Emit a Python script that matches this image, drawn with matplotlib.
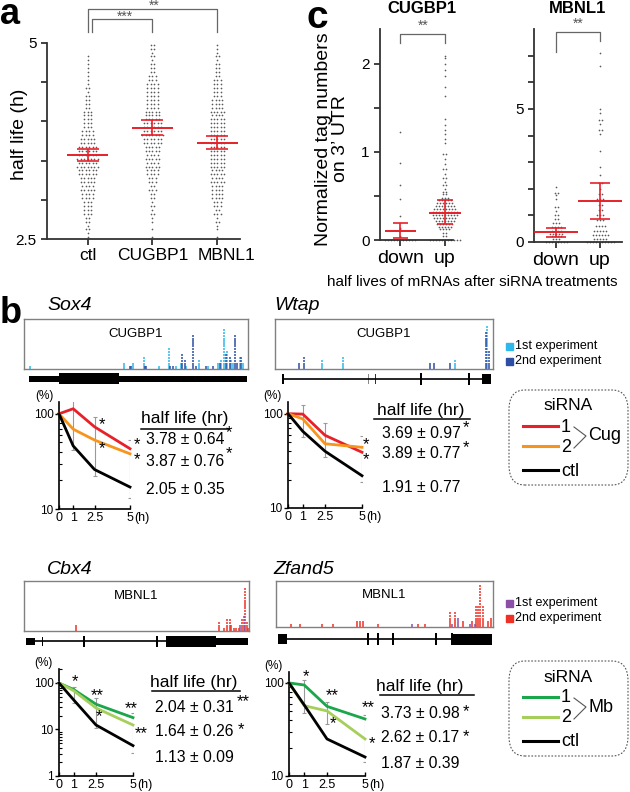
import numpy as np
import matplotlib
matplotlib.use('Agg')
import matplotlib.pyplot as plt
from matplotlib.transforms import Affine2D
from matplotlib.patches import FancyBboxPatch, Rectangle
from matplotlib.lines import Line2D

plt.rcParams['font.family'] = ['Liberation Sans', 'DejaVu Sans']

# ---------------- data ----------------
# panel a: half lives (h), number of dots per 0.1 h bin, 2.5 -> 5
a_groups = ['ctl', 'CUGBP1', 'MBNL1']
a_bin_lo = 2.5
a_bin_w = 0.1
a_ctl_counts = [2, 3, 4, 6, 6, 8, 9, 10, 12, 13, 13, 12, 10, 8, 6, 6, 5, 4, 3, 3, 2, 2, 2, 1, 0]
a_cug_counts = [1, 1, 2, 3, 3, 4, 5, 6, 8, 9, 9, 10, 12, 13, 12, 10, 9, 8, 8, 8, 6, 4, 3, 3, 4]
a_mb_counts = [1, 2, 3, 5, 6, 8, 8, 9, 9, 10, 10, 10, 10, 10, 10, 9, 9, 8, 6, 6, 5, 4, 3, 3, 2]
a_mean = [3.57, 3.92, 3.73]
a_sem = [0.08, 0.095, 0.083]

# panel c: normalized tag numbers on 3' UTR (levels and number of dots)
c_cug_down_lv = [0, 0.03, 0.05, 0.1, 0.12, 0.14, 0.27, 0.46, 0.62, 0.87, 1.22]
c_cug_down_n = [11, 1, 1, 1, 1, 1, 1, 1, 1, 1, 1]
c_cug_up_lv = [0, 0.05, 0.08, 0.12, 0.15, 0.18, 0.22, 0.25, 0.28, 0.32, 0.35, 0.38, 0.42,
               0.45, 0.48, 0.52, 0.55, 0.58, 0.62, 0.66, 0.7, 0.75, 0.8, 0.86, 0.92, 0.98,
               1.1, 1.14, 1.2, 1.25, 1.3, 1.37, 1.63, 1.74, 1.86, 1.93, 2.0, 2.07, 2.09]
c_cug_up_n = [11, 2, 2, 4, 5, 6, 7, 8, 9, 9, 8, 7, 6,
              5, 3, 2, 2, 1, 2, 1, 2, 1, 2, 1, 1, 2,
              1, 1, 1, 1, 1, 1, 1, 1, 1, 1, 1, 1, 1]
c_cug_mean = [0.105, 0.31]
c_cug_lo = [0.02, 0.18]
c_cug_hi = [0.19, 0.45]

c_mb_down_lv = [0, 0.1, 0.2, 0.3, 0.4, 0.55, 0.7, 0.85, 1.0, 1.15, 1.3, 1.6, 1.75, 1.85, 2.05]
c_mb_down_n = [8, 3, 4, 5, 4, 4, 3, 2, 2, 1, 2, 1, 1, 2, 1]
c_mb_up_lv = [0, 0.12, 0.25, 0.4, 0.6, 0.8, 1.0, 1.2, 1.4, 1.6, 1.8, 2.0, 2.2, 2.5, 2.8,
              3.4, 4.05, 4.2, 4.45, 4.6, 4.85, 5.0, 6.6, 7.1]
c_mb_up_n = [10, 5, 6, 5, 4, 3, 3, 2, 2, 3, 2, 1, 2, 1, 1,
             1, 1, 2, 1, 2, 1, 1, 1, 1]
c_mb_mean = [0.38, 1.54]
c_mb_lo = [0.19, 0.86]
c_mb_hi = [0.53, 2.2]

# panel b: decay curves (% remaining) at 0, 1, 2.5, 5 h
b_t = [0, 1, 2.5, 5]
b_err_t = [1, 2.5, 5]

sox4_si1 = [100, 113, 73, 43]
sox4_si2 = [100, 69, 53, 38]
sox4_ctl = [100, 46, 26, 17]
sox4_err_lo = [42, 22, 13]
sox4_err_hi = [145, 93, 53]

wtap_si1 = [100, 99, 59, 39]
wtap_si2 = [100, 88, 48, 44]
wtap_ctl = [100, 65, 40, 22]
wtap_err_lo = [57, 35, 19]
wtap_err_hi = [124, 80, 58]

cbx4_si1 = [100, 72, 35, 18]
cbx4_si2 = [100, 68, 29, 12.5]
cbx4_ctl = [100, 43, 12.5, 4.5]
cbx4_err_lo = [37, 11, 3.2]
cbx4_err_hi = [82, 48, 23]

zfand5_si1 = [100, 95, 56, 41]
zfand5_si2 = [100, 57, 50, 25]
zfand5_ctl = [100, 58, 25, 16]
zfand5_err_lo = [48, 36, 14]
zfand5_err_hi = [108, 63, 45]

half_sox4 = ['3.78 \u00b1 0.64', '3.87 \u00b1 0.76', '2.05 \u00b1 0.35']
half_wtap = ['3.69 \u00b1 0.97', '3.89 \u00b1 0.77', '1.91 \u00b1 0.77']
half_cbx4 = ['2.04 \u00b1 0.31', '1.64 \u00b1 0.26', '1.13 \u00b1 0.09']
half_zfand5 = ['3.73 \u00b1 0.98', '2.62 \u00b1 0.17', '1.87 \u00b1 0.39']

# CLIP tags: position along the gene (fraction of box) and stacked read count
sox4_tag1_x = [.025, .445, .487, .534, .603, .647, .68, .702, .725, .781, .82, .866, .88,
               .891, .908, .926, .933, .966, .978]
sox4_tag1_n = [1, 2, 2, 4, 1, 7, 1, 2, 1, 3, 1, 2, 3, 13, 6, 3, 2, 4, 2]
sox4_tag2_x = [.472, .479, .539, .546, .653, .665, .707, .717, .754, .769, .811, .844,
               .873, .903, .918, .94, .95, .97]
sox4_tag2_n = [1, 1, 1, 1, 1, 1, 5, 3, 11, 1, 1, 1, 2, 5, 4, 11, 2, 4]

wtap_tag1_x = [.216, .312, .826, .972]
wtap_tag1_n = [3, 4, 3, 14]
wtap_tag2_x = [.11, .133, .711, .729, .803, .968, .982]
wtap_tag2_n = [2, 4, 2, 2, 2, 12, 6]

cbx4_tag1_x = [.961, .978]
cbx4_tag1_n = [2, 5]
cbx4_tag2_x = [.233, .867, .887, .904, .914, .921, .932, .944, .956, .97, .981, .991, .997]
cbx4_tag2_n = [2, 3, 1, 4, 4, 2, 1, 1, 1, 4, 14, 3, 1]

zfand5_tag1_x = [.627, .811, .839, .894, .917]
zfand5_tag1_n = [1, 1, 3, 1, 1]
zfand5_tag2_x = [.069, .11, .212, .263, .373, .387, .401, .47, .654, .687, .802, .825,
                 .862, .903, .922, .931, .94, .954, .977, .991]
zfand5_tag2_n = [1, 1, 1, 1, 2, 2, 2, 1, 1, 1, 5, 5, 2, 2, 7, 7, 14, 7, 2, 3]

# gene models: exon start, end (fraction of box), half height (px), colour
sox4_exons = [(.022, .156, 3, 'k'), (.156, .424, 5.5, 'k'), (.424, .996, 3, 'k')]
wtap_exons = [(.033, .039, 5, 'k'), (.273, .277, 5, '#888888'), (.365, .369, 5, '#555555'),
              (.425, .429, 5, '#888888'), (.461, .465, 5, '#333333'), (.667, .673, 6, 'k'),
              (.887, .893, 6, 'k'), (.95, .99, 5, 'k')]
cbx4_exons = [(.009, .049, 3.5, 'k'), (.078, .084, 4.5, 'k'), (.262, .272, 5.5, 'k'),
              (.587, .595, 5.5, 'k'), (.631, .853, 5.5, 'k'), (.853, .996, 3.5, 'k')]
zfand5_exons = [(.009, .051, 5, 'k'), (.418, .43, 6, 'k'), (.465, .475, 6, 'k'),
                (.535, .543, 6, 'k'), (.732, .742, 6, 'k'), (.805, .816, 6, 'k'),
                (.816, .995, 5.5, 'k')]

# colours
RED = '#e62129'
ORANGE = '#f7941d'
DKGREEN = '#1aa64a'
LTGREEN = '#a5cf5a'
CYAN = '#2fb8ea'
NAVY = '#2d4ea3'
PURPLE = '#8c4fa8'
TAGRED = '#ee3124'

# ---------------- figure ----------------
W, H = 630, 792
fig = plt.figure(figsize=(6.3, 7.92), dpi=100)
PX = Affine2D().scale(1.0 / W, -1.0 / H).translate(0, 1) + fig.transFigure


def add_ax(x0, y0, x1, y1):
    return fig.add_axes([x0 / W, 1 - y1 / H, (x1 - x0) / W, (y1 - y0) / H])


def ftext(x, y, s, **kw):
    kw.setdefault('ha', 'center')
    kw.setdefault('va', 'center')
    fig.text(x, y, s, transform=PX, **kw)


def fline(xs, ys, **kw):
    fig.add_artist(Line2D(xs, ys, transform=PX, **kw))


def swarm(ax, xc, levels, counts, dx, color='#5a5a5a', s=1.5):
    for lv, n in zip(levels, counts):
        if n == 0:
            continue
        xs = xc + (np.arange(n) - (n - 1) / 2.0) * dx
        ax.scatter(xs, np.full(n, lv), s=s, color=color, lw=0, zorder=2, clip_on=False)


def mean_sem(ax, xc, m, lo, hi, half_w, cap_w):
    ax.hlines(m, xc - half_w, xc + half_w, color=RED, lw=1.4, zorder=4, clip_on=False)
    ax.vlines(xc, lo, hi, color=RED, lw=1.2, zorder=4, clip_on=False)
    ax.hlines([lo, hi], xc - cap_w, xc + cap_w, color=RED, lw=1.2, zorder=4, clip_on=False)


def style_axis(ax, lw=1.3, color='#333333'):
    for s in ['top', 'right']:
        ax.spines[s].set_visible(False)
    for s in ['left', 'bottom']:
        ax.spines[s].set_linewidth(lw)
        ax.spines[s].set_color(color)
    ax.tick_params(color=color, width=lw)


# ---- panel a ----
ax_a = add_ax(47, 42.7, 240, 239.3)
for i, counts in enumerate([a_ctl_counts, a_cug_counts, a_mb_counts]):
    levels, ns = [], []
    for j, n in enumerate(counts):
        levels += [a_bin_lo + a_bin_w * (j + 0.25), a_bin_lo + a_bin_w * (j + 0.75)]
        ns += [(n + 1) // 2, n // 2]
    swarm(ax_a, i, levels, ns, 3.4 / 65.0)
    mean_sem(ax_a, i, a_mean[i], a_mean[i] - a_sem[i], a_mean[i] + a_sem[i], 0.32, 0.17)
ax_a.set_xlim(-0.625, 2.35)
ax_a.set_ylim(2.5, 5)
style_axis(ax_a)
ax_a.set_yticks([2.5, 3, 3.5, 4, 4.5, 5])
ax_a.set_yticklabels(['2.5', '', '', '', '', '5'], fontsize=11)
ax_a.set_xticks([0, 1, 2])
ax_a.set_xticklabels([])
ax_a.tick_params(length=4)
# category names (MBNL1 sits a little right of its column in the original)
for i, (name, off) in enumerate(zip(a_groups, [0, 0, 0.14])):
    ax_a.text(i + off, -0.045, name, transform=ax_a.get_xaxis_transform(),
              ha='center', va='top', fontsize=12.5)
ftext(20, 134, 'half life (h)', fontsize=14, rotation=90)
# significance brackets
br = dict(color='#666666', lw=0.9, clip_on=False)
ax_a.plot([0, 0, 2, 2], [5.14, 5.43, 5.43, 5.14], **br)
ax_a.plot([0.07, 0.07, 1, 1], [5.14, 5.30, 5.30, 5.14], **br)
ax_a.text(1.03, 5.47, '**', ha='center', va='center', fontsize=10, color='#555555')
ax_a.text(0.58, 5.33, '***', ha='center', va='center', fontsize=10, color='#555555')
ftext(0, 24, 'a', fontsize=26, fontweight='bold', ha='left', va='baseline')

# ---- panel c ----
ax_c1 = add_ax(380, 29.3, 453, 240)
swarm(ax_c1, 0, c_cug_down_lv, c_cug_down_n, 3.0 / 44.5)
swarm(ax_c1, 1, c_cug_up_lv, c_cug_up_n, 3.0 / 44.5)
for i in range(2):
    mean_sem(ax_c1, i, c_cug_mean[i], c_cug_lo[i], c_cug_hi[i], 0.35, 0.17)
ax_c1.set_xlim(-0.46, 1.18)
ax_c1.set_ylim(0, 2.39)
style_axis(ax_c1)
ax_c1.set_yticks([0, 0.5, 1, 1.5, 2])
ax_c1.set_yticklabels(['0', '', '1', '', '2'], fontsize=11)
ax_c1.set_xticks([0, 1])
ax_c1.set_xticklabels(['down', 'up'], fontsize=14)
ax_c1.tick_params(length=4)
ax_c1.plot([0, 0, 1, 1], [2.23, 2.34, 2.34, 2.23], **br)
ax_c1.text(0.5, 2.43, '**', ha='center', va='center', fontsize=10, color='#555555')
ax_c1.set_title('CUGBP1', fontsize=12, fontweight='bold', pad=12, x=0.575)

ax_c2 = add_ax(534, 29.3, 621.7, 241.7)
swarm(ax_c2, 0, c_mb_down_lv, c_mb_down_n, 3.0 / 44)
swarm(ax_c2, 1, c_mb_up_lv, c_mb_up_n, 3.0 / 44)
for i in range(2):
    mean_sem(ax_c2, i, c_mb_mean[i], c_mb_lo[i], c_mb_hi[i], 0.5, 0.23)
ax_c2.set_xlim(-0.5, 1.49)
ax_c2.set_ylim(0, 8.0)
style_axis(ax_c2)
ax_c2.set_yticks([0, 1, 2, 3, 4, 5, 6, 7])
ax_c2.set_yticklabels(['0', '', '', '', '', '5', '', ''], fontsize=11)
ax_c2.set_xticks([0, 1])
ax_c2.set_xticklabels(['down', 'up'], fontsize=14)
ax_c2.tick_params(length=4)
ax_c2.plot([0, 0, 1, 1], [7.13, 7.89, 7.89, 7.55], **br)
ax_c2.text(0.5, 8.2, '**', ha='center', va='center', fontsize=10, color='#555555')
ax_c2.set_title('MBNL1', fontsize=12, fontweight='bold', pad=12)

ftext(332, 139, 'Normalized tag numbers\non 3\u2019 UTR', fontsize=14, rotation=90,
      linespacing=1.05)
ftext(472, 282, 'half lives of mRNAs after siRNA treatments', fontsize=11)
ftext(307, 28, 'c', fontsize=28, fontweight='bold', ha='left', va='baseline')


# ---- panel b ----
def track(x0, y0, x1, y1, label, tags, ymax):
    ax = add_ax(x0, y0, x1, y1)
    ax.set_xlim(0, 1)
    ax.set_ylim(0, ymax)
    ax.set_xticks([])
    ax.set_yticks([])
    for s in ax.spines.values():
        s.set_color('#808080')
        s.set_linewidth(1.0)
    for xs, ns, col in tags:
        for xv, n in zip(xs, ns):
            k = np.arange(n)
            ax.vlines(np.full(n, xv), k + 0.1, k + 0.85, color=col, lw=1.1)
    ax.text(0.5, 0.7, label, transform=ax.transAxes, ha='center', va='center', fontsize=9.5)
    return ax


def gene(x0, x1, yc, exons, line_from, line_to):
    ax = add_ax(x0, yc - 9, x1, yc + 9)
    ax.set_xlim(0, 1)
    ax.set_ylim(-9, 9)
    ax.axis('off')
    ax.hlines(0, line_from, line_to, color='black', lw=1.2)
    for s, e, hh, col in exons:
        ax.add_patch(Rectangle((s, -hh), e - s, 2 * hh, color=col, lw=0))
    return ax


def decay(x0, y0, x1, y1, ylim, yticks, ylabels, curves, colors, err_lo, err_hi):
    ax = add_ax(x0, y0, x1, y1)
    ax.set_yscale('log')
    for yv, col in zip(curves, colors):
        ax.plot(b_t, yv, color=col, lw=2.0, zorder=3, clip_on=False)
    ax.vlines(b_err_t, err_lo, err_hi, color='#9a9a9a', lw=0.8, zorder=2)
    ax.scatter(b_err_t + b_err_t, list(err_lo) + list(err_hi), marker='_', s=10,
               color='#9a9a9a', lw=0.8, zorder=2)
    ax.set_xlim(0, 5)
    ax.set_ylim(*ylim)
    for s in ['top', 'right']:
        ax.spines[s].set_visible(False)
    for s in ['left', 'bottom']:
        ax.spines[s].set_linewidth(1.2)
        ax.spines[s].set_color('black')
    ax.set_yticks(yticks)
    ax.set_yticklabels(ylabels, fontsize=8.5)
    ax.set_xticks(b_t)
    ax.set_xticklabels(['0', '1', '2.5', '5'], fontsize=9)
    ax.tick_params(axis='y', which='major', direction='out', length=3, width=1, pad=1)
    ax.tick_params(axis='y', which='minor', direction='in', length=2.5, width=0.8)
    ax.tick_params(axis='x', direction='in', length=3, width=1, pad=2)
    ax.yaxis.set_minor_formatter(matplotlib.ticker.NullFormatter())
    ax.text(-0.08, 1.0, '(%)', transform=ax.transAxes, ha='right', va='bottom', fontsize=8.5)
    ax.text(1.06, -0.03, '(h)', transform=ax.transAxes, ha='left', va='top', fontsize=9)
    return ax


def half_block(x, ys, header_y, rows, stars, under):
    ftext(x, header_y, 'half life (hr)', fontsize=12.5, ha='left')
    fline(under[0], under[1], color='black', lw=1.1)
    for yv, s in zip(ys, rows):
        ftext(x + 5, yv, s, fontsize=11.3, ha='left')
    for sx, sy, s in stars:
        ftext(sx, sy, s, fontsize=12)


def siRNA_legend(y0, colors, tag):
    box = FancyBboxPatch((509 / W, 1 - (y0 + 95) / H), 119 / W, 95 / H,
                         boxstyle='round,pad=0,rounding_size=0.025', transform=fig.transFigure,
                         fill=False, ec='#555555', lw=0.8, ls=(0, (1.5, 1.5)))
    fig.add_artist(box)
    ftext(568, y0 + 16, 'siRNA', fontsize=12.5)
    ys = [y0 + 36, y0 + 56, y0 + 80]
    for yv, col, lab in zip(ys, colors, ['1', '2', 'ctl']):
        fline([523, 558], [yv, yv], color=col, lw=2.2)
        ftext(561, yv + 1, lab, fontsize=13, ha='left')
    fline([574, 586, 574], [ys[0] + 1, (ys[0] + ys[1]) / 2, ys[1] + 2], color='#555555', lw=0.8)
    ftext(588, (ys[0] + ys[1]) / 2, tag, fontsize=13, ha='left')


def exp_legend(y0, c1, c2):
    for yv, col, lab in [(y0, c1, '1st experiment'), (y0 + 15, c2, '2nd experiment')]:
        fig.add_artist(Rectangle((506 / W, 1 - (yv + 3.5) / H), 7 / W, 7 / H, color=col,
                                 transform=fig.transFigure))
        ftext(515, yv, lab, fontsize=9, ha='left')


# Sox4
ftext(47, 306, 'Sox4', fontsize=14, style='italic', ha='left')
track(24, 319, 248, 369, 'CUGBP1', [(sox4_tag1_x, sox4_tag1_n, CYAN),
                                    (sox4_tag2_x, sox4_tag2_n, NAVY)], 16)
gene(24, 248, 379, sox4_exons, 0.022, 0.996)
decay(59, 401.7, 130, 509, (10, 134), [10, 100], ['10', '100'],
      [sox4_si1, sox4_si2, sox4_ctl], [RED, ORANGE, 'black'], sox4_err_lo, sox4_err_hi)
half_block(141, [440, 461, 489], 419, half_sox4,
           [(102, 425, '*'), (102, 449, '*'), (137, 445, '*'), (137, 460, '*'),
            (229, 433, '*'), (229, 454, '*')],
           ([141, 229], [429, 429]))

# Wtap
ftext(274, 306, 'Wtap', fontsize=14, style='italic', ha='left')
track(275, 319, 493, 369, 'CUGBP1', [(wtap_tag1_x, wtap_tag1_n, CYAN),
                                     (wtap_tag2_x, wtap_tag2_n, NAVY)], 16)
gene(275, 493, 379, wtap_exons, 0.036, 0.986)
decay(288, 401.7, 362, 508, (10, 134), [10, 100], ['10', '100'],
      [wtap_si1, wtap_si2, wtap_ctl], [RED, ORANGE, 'black'], wtap_err_lo, wtap_err_hi)
half_block(377, [434, 454, 487], 410, half_wtap,
           [(366, 445, '*'), (366, 460, '*'), (466, 428, '*'), (466, 448, '*')],
           ([374, 470], [419, 419]))
exp_legend(346, CYAN, NAVY)
siRNA_legend(390, [RED, ORANGE, 'black'], 'Cug')

# Cbx4
ftext(47, 570, 'Cbx4', fontsize=14, style='italic', ha='left')
track(24, 581, 249, 631, 'MBNL1', [(cbx4_tag2_x, cbx4_tag2_n, TAGRED),
                                   (cbx4_tag1_x, cbx4_tag1_n, PURPLE)], 16)
gene(24, 249, 641, cbx4_exons, 0.009, 0.996)
decay(59, 669, 133, 776, (1, 200), [1, 10, 100], ['1', '10', '100'],
      [cbx4_si1, cbx4_si2, cbx4_ctl], [DKGREEN, LTGREEN, 'black'], cbx4_err_lo, cbx4_err_hi)
half_block(150, [707, 731, 757], 682, half_cbx4,
           [(75, 682, '*'), (97, 696, '**'), (99, 717, '*'), (131, 709, '**'),
            (141, 734, '**'), (243, 702, '**'), (241, 730, '*')],
           ([152, 240], [691, 691]))

# Zfand5
ftext(273, 570, 'Zfand5', fontsize=14, style='italic', ha='left')
track(276, 581, 493, 627, 'MBNL1', [(zfand5_tag2_x, zfand5_tag2_n, TAGRED),
                                    (zfand5_tag1_x, zfand5_tag1_n, PURPLE)], 15)
gene(276, 493, 639, zfand5_exons, 0.009, 0.995)
decay(289, 671.7, 365, 776, (10, 132), [10, 100], ['10', '100'],
      [zfand5_si1, zfand5_si2, zfand5_ctl], [DKGREEN, LTGREEN, 'black'],
      zfand5_err_lo, zfand5_err_hi)
half_block(376, [713, 738, 763], 687, half_zfand5,
           [(306, 677, '*'), (332, 696, '**'), (333, 724, '*'), (368, 708, '**'),
            (372, 744, '*'), (466, 712, '*'), (466, 737, '*')],
           ([380, 474], [695, 695]))
exp_legend(603, PURPLE, TAGRED)
siRNA_legend(661, [DKGREEN, LTGREEN, 'black'], 'Mb')

ftext(0, 323, 'b', fontsize=26, fontweight='bold', ha='left', va='baseline')

fig.savefig('out.png', dpi=100)
